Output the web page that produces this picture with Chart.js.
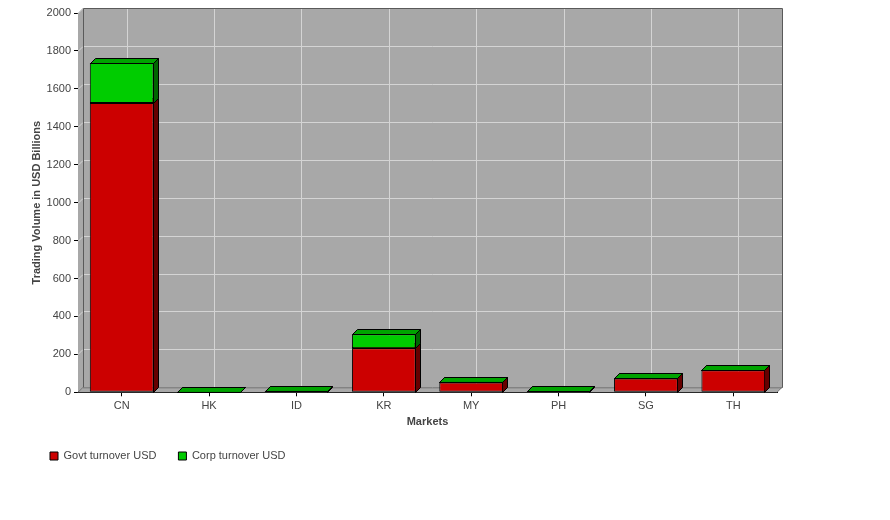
<!DOCTYPE html>
<html>
<head>
<meta charset="utf-8">
<script src="https://cdn.jsdelivr.net/npm/chart.js@4"></script>
<style>
  html, body { margin: 0; padding: 0; background: #ffffff; }
  #wrap { width: 890px; height: 520px; }
</style>
</head>
<body>
<div id="wrap"><canvas id="c" width="890" height="520"></canvas></div>
<script>
const markets = ['CN', 'HK', 'ID', 'KR', 'MY', 'PH', 'SG', 'TH'];
const govtTurnover = [1525, 0.5, 5, 232, 52, 5, 73, 116];
const corpTurnover = [211, 1, 3, 74, 4, 2, 2, 2];
const yTicks = [0, 200, 400, 600, 800, 1000, 1200, 1400, 1600, 1800, 2000];

const DX = 5, DY = 5;
const FONT = "'Liberation Sans', Arial, sans-serif";

const faceColors = [
  { top: '#A30000', side: '#660000' },
  { top: '#00A300', side: '#006600' }
];

function poly(ctx, pts, fill, stroke) {
  ctx.beginPath();
  ctx.moveTo(pts[0][0], pts[0][1]);
  for (let i = 1; i < pts.length; i++) ctx.lineTo(pts[i][0], pts[i][1]);
  ctx.closePath();
  if (fill) { ctx.fillStyle = fill; ctx.fill(); }
  if (stroke) { ctx.strokeStyle = stroke; ctx.lineWidth = 1; ctx.stroke(); }
}

const threeD = {
  id: 'threeD',
  beforeDatasetsDraw(chart) {
    const { ctx, chartArea } = chart;
    const { left, right, top, bottom } = chartArea;
    const xs = chart.scales.x, ys = chart.scales.y;
    ctx.save();
    const wall = '#A8A8A8';
    // back wall
    ctx.fillStyle = wall;
    ctx.fillRect(left + DX, top - DY, right - left, bottom - top);
    // left wall
    poly(ctx, [[left, top], [left + DX, top - DY], [left + DX, bottom - DY], [left, bottom]], wall, null);
    // floor
    poly(ctx, [[left, bottom], [left + DX, bottom - DY], [right + DX, bottom - DY], [right, bottom]], wall, null);
    // gridlines
    ctx.strokeStyle = '#D4D4D4';
    ctx.lineWidth = 1;
    ys.ticks.forEach((t) => {
      if (t.value === 0) return;
      const py = Math.round(ys.getPixelForValue(t.value)) + 0.5;
      ctx.beginPath();
      ctx.moveTo(left + DX, py - DY);
      ctx.lineTo(right + DX, py - DY);
      ctx.moveTo(left, py);
      ctx.lineTo(left + DX, py - DY);
      ctx.stroke();
    });
    markets.forEach((m, i) => {
      const px = Math.round(xs.getPixelForValue(i)) + 0.5;
      ctx.beginPath();
      ctx.moveTo(px + DX, top - DY);
      ctx.lineTo(px + DX, bottom - DY);
      ctx.stroke();
    });
    // wall outlines
    ctx.strokeStyle = '#5A5A5A';
    ctx.beginPath();
    ctx.moveTo(left + DX + 0.5, bottom - DY);
    ctx.lineTo(left + DX + 0.5, top - DY + 0.5);
    ctx.lineTo(right + DX + 0.5, top - DY + 0.5);
    ctx.lineTo(right + DX + 0.5, bottom - DY + 0.5);
    ctx.stroke();
    ctx.strokeStyle = '#6E6E6E';
    ctx.beginPath();
    ctx.moveTo(left + DX, bottom - DY + 0.5);
    ctx.lineTo(right + DX, bottom - DY + 0.5);
    ctx.moveTo(left, bottom);
    ctx.lineTo(left + DX, bottom - DY);
    ctx.moveTo(right, bottom);
    ctx.lineTo(right + DX, bottom - DY);
    ctx.stroke();

    // 3D faces of bars
    chart.data.datasets.forEach((ds, di) => {
      const meta = chart.getDatasetMeta(di);
      meta.data.forEach((bar) => {
        const p = bar.getProps(['x', 'y', 'base', 'width'], true);
        const l = Math.round(p.x - p.width / 2) + 0.5;
        const r = Math.round(p.x + p.width / 2) - 0.5;
        const t = Math.round(Math.min(p.y, p.base)) + 0.5;
        const b = Math.round(Math.max(p.y, p.base)) + 0.5;
        poly(ctx, [[r, t], [r + DX, t - DY], [r + DX, b - DY], [r, b]], faceColors[di].side, '#000');
        poly(ctx, [[l, t], [l + DX, t - DY], [r + DX, t - DY], [r, t]], faceColors[di].top, '#000');
      });
    });
    ctx.restore();
  }
};

const yAxisRight = 78;
const padLeft = 28;

new Chart(document.getElementById('c'), {
  type: 'bar',
  data: {
    labels: markets,
    datasets: [
      { label: 'Govt turnover USD', data: govtTurnover, backgroundColor: '#CC0000', borderColor: '#000', borderWidth: 1, borderSkipped: false },
      { label: 'Corp turnover USD', data: corpTurnover, backgroundColor: '#00CC00', borderColor: '#000', borderWidth: 1, borderSkipped: false }
    ]
  },
  plugins: [threeD],
  options: {
    responsive: false,
    animation: false,
    devicePixelRatio: 1,
    layout: { padding: { left: padLeft, right: 113, top: 13, bottom: 48.5 } },
    datasets: { bar: { barPercentage: 1, categoryPercentage: 0.73 } },
    plugins: {
      tooltip: { enabled: false },
      legend: {
        position: 'bottom',
        align: 'start',
        labels: {
          boxWidth: 8,
          boxHeight: 8,
          padding: 22,
          color: '#444',
          font: { family: FONT, size: 11 },
          useBorderRadius: false,
          generateLabels(chart) {
            return chart.data.datasets.map((ds, i) => ({
              text: ds.label, fillStyle: ds.backgroundColor, strokeStyle: '#000', lineWidth: 1,
              fontColor: '#444', datasetIndex: i, hidden: false
            }));
          }
        }
      }
    },
    scales: {
      x: {
        stacked: true,
        offset: true,
        grid: { display: true, drawOnChartArea: false, drawTicks: true, tickLength: 4, color: '#000', offset: false },
        border: { display: true, color: '#000', width: 1 },
        ticks: { color: '#444', font: { family: FONT, size: 11 }, padding: 3, maxRotation: 0 },
        title: { display: true, text: 'Markets', color: '#444', font: { family: FONT, size: 11, weight: 'bold' }, padding: { top: 3, bottom: 0 } },
        afterFit(scale) { scale.height = 36.2; }
      },
      y: {
        stacked: true,
        min: 0,
        max: 2000,
        afterBuildTicks(scale) { scale.ticks = yTicks.map(v => ({ value: v })); },
        grid: { display: true, drawOnChartArea: false, drawTicks: true, tickLength: 4, color: '#000' },
        border: { display: true, color: '#000', width: 1 },
        ticks: { color: '#444', font: { family: FONT, size: 11 }, padding: 3, callback: (v) => String(v) },
        title: { display: true, text: 'Trading Volume in USD Billions', color: '#444', font: { family: FONT, size: 11, weight: 'bold' }, padding: { top: 2, bottom: 0 } },
        afterFit(scale) { scale.width = yAxisRight - padLeft; }
      }
    }
  }
});
</script>
</body>
</html>
